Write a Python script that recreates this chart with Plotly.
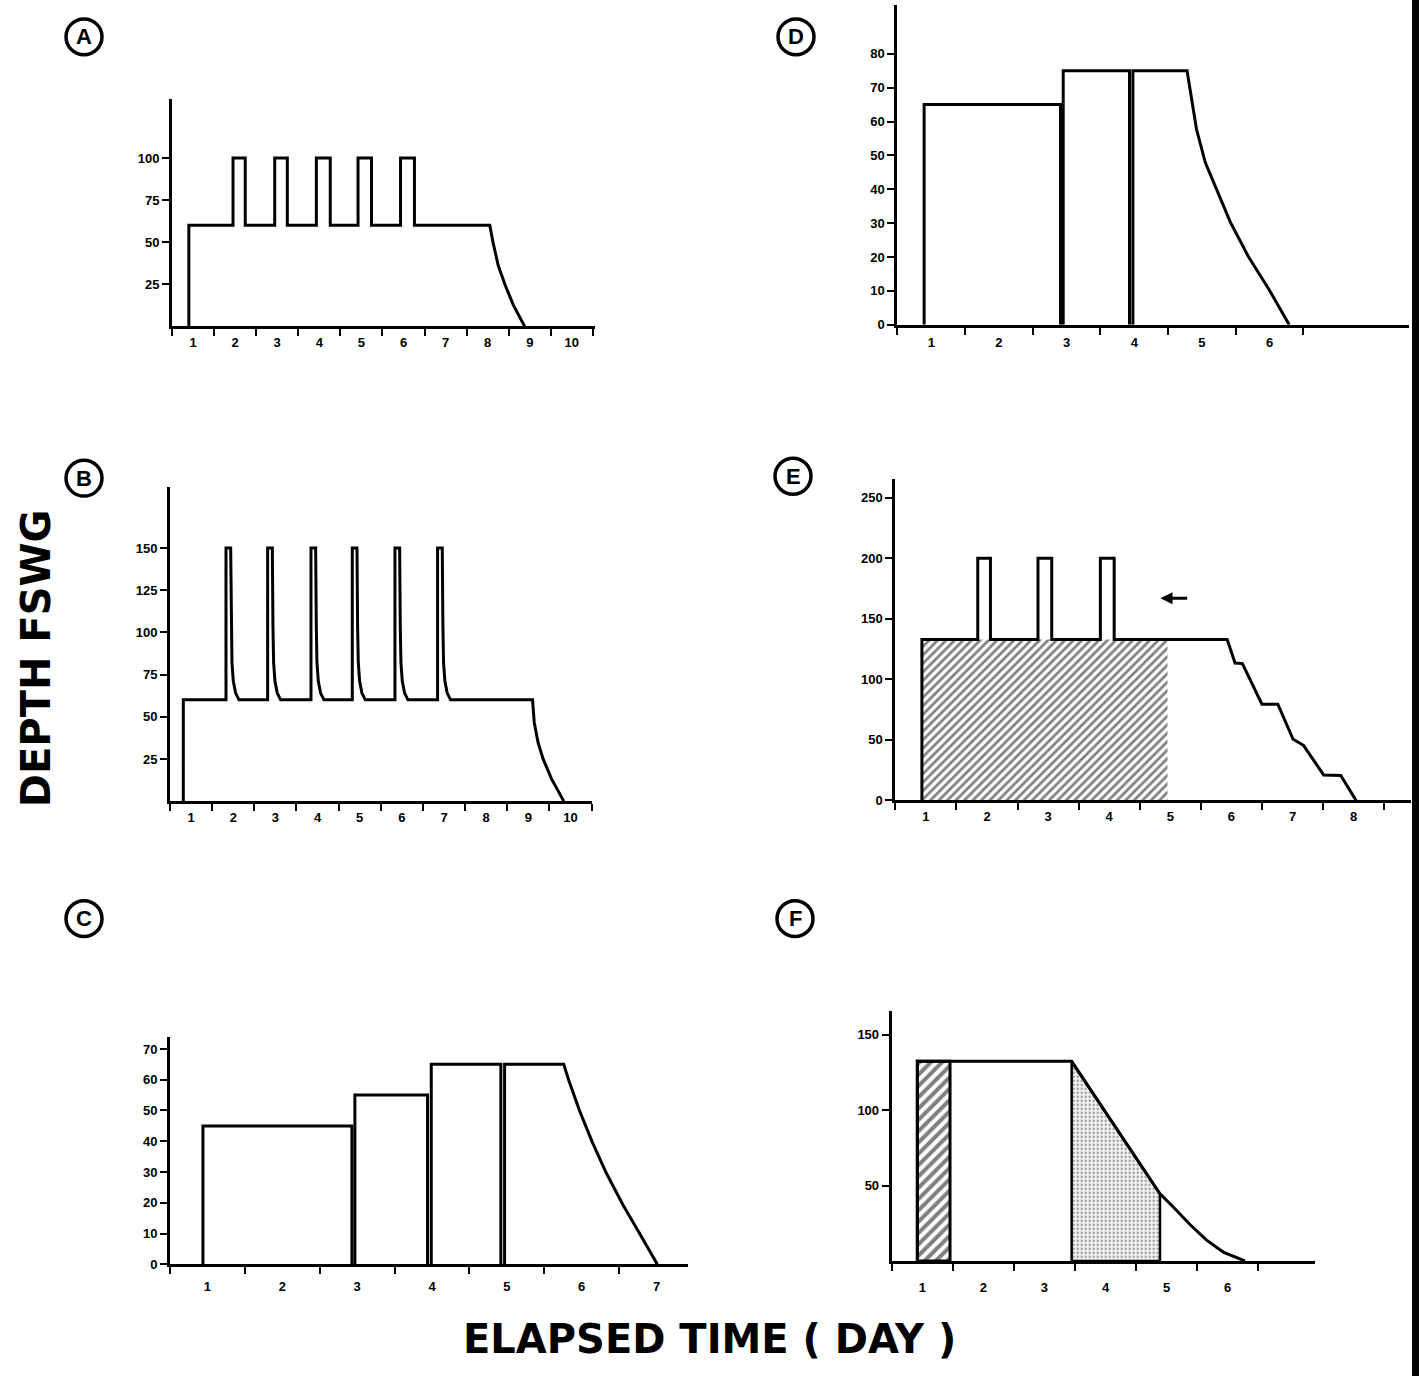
import plotly.graph_objects as go

W, H = 1419, 1384

# ---------------- data (x in elapsed days from axis origin, y in FSWG) ----------------
# Panel A
A_x = [0.40, 0.40, 1.45, 1.45, 1.74, 1.74, 2.44, 2.44, 2.74, 2.74, 3.43, 3.43, 3.76, 3.76,
       4.42, 4.42, 4.74, 4.74, 5.43, 5.43, 5.76, 5.76, 7.55, 7.63, 7.75, 7.91, 8.11, 8.38]
A_y = [0, 60, 60, 100, 100, 60, 60, 100, 100, 60, 60, 100, 100, 60,
       60, 100, 100, 60, 60, 100, 100, 60, 60, 49.5, 36.3, 24.9, 12.6, 0]
A_yticks = [25, 50, 75, 100]
A_xlabels = ["1", "2", "3", "4", "5", "6", "7", "8", "9", "10"]

# Panel B
B_x = [0.316, 0.316,
       1.328, 1.328, 1.439, 1.454, 1.470, 1.502, 1.557, 1.636,
       2.316, 2.316, 2.427, 2.442, 2.458, 2.490, 2.545, 2.624,
       3.344, 3.344, 3.455, 3.470, 3.486, 3.518, 3.573, 3.652,
       4.324, 4.324, 4.435, 4.450, 4.466, 4.498, 4.553, 4.632,
       5.336, 5.336, 5.447, 5.462, 5.478, 5.510, 5.565, 5.644,
       6.347, 6.347, 6.458, 6.473, 6.489, 6.521, 6.576, 6.655,
       8.60, 8.64, 8.73, 8.85, 9.05, 9.34]
B_y = [0, 60,
       60, 150, 150, 104, 82, 71, 64, 60,
       60, 150, 150, 104, 82, 71, 64, 60,
       60, 150, 150, 104, 82, 71, 64, 60,
       60, 150, 150, 104, 82, 71, 64, 60,
       60, 150, 150, 104, 82, 71, 64, 60,
       60, 150, 150, 104, 82, 71, 64, 60,
       60, 46.6, 34.8, 25, 13.2, 0]
B_yticks = [25, 50, 75, 100, 125, 150]
B_xlabels = ["1", "2", "3", "4", "5", "6", "7", "8", "9", "10"]

# Panel C (stepwise blocks + decompression tail)
C_starts = [0.44, 2.47, 3.49, 4.47]
C_ends = [2.43, 3.44, 4.42]
C_depths = [45, 55, 65, 65]
C_tail_x = [5.26, 5.32, 5.47, 5.64, 5.83, 6.05, 6.27, 6.51]
C_tail_y = [65, 60.3, 50, 39.8, 29.6, 19.4, 10.2, 0]
C_yticks = [0, 10, 20, 30, 40, 50, 60, 70]
C_xlabels = ["1", "2", "3", "4", "5", "6", "7"]

# Panel D
D_starts = [0.395, 2.45, 3.48]
D_ends = [2.41, 3.43]
D_depths = [65, 75, 75]
D_tail_x = [4.28, 4.34, 4.42, 4.55, 4.71, 4.92, 5.19, 5.48, 5.79]
D_tail_y = [75, 67.4, 57.7, 47.9, 40.1, 30.3, 20, 10.8, 0]
D_yticks = [0, 10, 20, 30, 40, 50, 60, 70, 80]
D_xlabels = ["1", "2", "3", "4", "5", "6"]

# Panel E
E_x = [0.434, 0.434, 1.348, 1.348, 1.556, 1.556, 2.334, 2.334, 2.559, 2.559, 3.355, 3.355,
       3.581, 3.581, 5.43, 5.56, 5.68, 6.00, 6.26, 6.51, 6.68, 7.01, 7.29, 7.54]
E_y = [0, 133, 133, 200, 200, 133, 133, 200, 200, 133, 133, 200,
       200, 133, 133, 113.5, 113, 79.5, 79.5, 50.5, 45.5, 21, 20.5, 0]
E_hatch_x = [0.434, 4.454]
E_hatch_depth = 133
E_arrow_x = [4.34, 4.80]
E_arrow_y = 167
E_yticks = [0, 50, 100, 150, 200, 250]
E_xlabels = ["1", "2", "3", "4", "5", "6", "7", "8"]

# Panel F
F_x = [0.42, 0.42, 2.946, 4.392, 4.610, 4.883, 5.155, 5.428, 5.783]
F_y = [0, 132.5, 132.5, 44.6, 35.8, 24.2, 13.8, 5.9, 0]
F_hatch_x = [0.42, 0.955]
F_hatch_depth = 132.5
F_stipple_x = [2.946, 4.392]
F_stipple_top = [132.5, 44.6]
F_yticks = [50, 100, 150]
F_xlabels = ["1", "2", "3", "4", "5", "6"]

# ---------------- figure ----------------
fig = go.Figure()
LINE = dict(color="black", width=3)


def add(xs, ys, sfx, line=LINE, **kw):
    fig.add_trace(go.Scatter(x=xs, y=ys, mode="lines", line=line,
                             xaxis="x" + sfx, yaxis="y" + sfx,
                             hoverinfo="skip", showlegend=False, **kw))


# A, B : single profiles
add(A_x, A_y, "")
add(B_x, B_y, "2")

# C : blocks
for i, (s, d) in enumerate(zip(C_starts, C_depths)):
    if i < len(C_ends):
        add([s, s, C_ends[i], C_ends[i]], [0, d, d, 0], "3")
    else:
        add([s, s] + C_tail_x, [0, d] + C_tail_y, "3")

# D : blocks
for i, (s, d) in enumerate(zip(D_starts, D_depths)):
    if i < len(D_ends):
        add([s, s, D_ends[i], D_ends[i]], [0, d, d, 0], "4")
    else:
        add([s, s] + D_tail_x, [0, d] + D_tail_y, "4")

# E : hatched saturation region + profile
add([E_hatch_x[0], E_hatch_x[0], E_hatch_x[1], E_hatch_x[1], E_hatch_x[0]],
    [0, E_hatch_depth, E_hatch_depth, 0, 0], "5",
    line=dict(color="black", width=0), fill="toself", fillcolor="white",
    fillpattern=dict(shape="/", size=6, solidity=0.45, fgcolor="black", bgcolor="white"))
add(E_x, E_y, "5")

# F : hatched block, stippled region, profile
add([F_hatch_x[0], F_hatch_x[0], F_hatch_x[1], F_hatch_x[1], F_hatch_x[0]],
    [0, F_hatch_depth, F_hatch_depth, 0, 0], "6",
    line=dict(color="black", width=3), fill="toself", fillcolor="white",
    fillpattern=dict(shape="/", size=8, solidity=0.5, fgcolor="black", bgcolor="white"))
add([F_stipple_x[0], F_stipple_x[0], F_stipple_x[1], F_stipple_x[1], F_stipple_x[0]],
    [0, F_stipple_top[0], F_stipple_top[1], 0, 0], "6",
    line=dict(color="black", width=2.5), fill="toself", fillcolor="white",
    fillpattern=dict(shape=".", size=4, solidity=0.4, fgcolor="#444444", bgcolor="white"))
add(F_x, F_y, "6")

# ---------------- axes ----------------
# pixel boxes: (left, right, top, zero-line)
panels = [
    ("", (172, 595, 100, 328.3), [0, 10.05], [0, 134.8], A_xlabels, A_yticks, 10, 2),
    ("2", (170, 592, 490, 805.8), [0, 10.01], [0, 186], B_xlabels, B_yticks, 10, 2),
    ("3", (170, 688, 1043.3, 1271.7), [0, 6.92], [0, 73.8], C_xlabels, C_yticks, 6, 8),
    ("4", (897.4, 1409, 5, 326.7), [0, 7.56], [0, 94.4], D_xlabels, D_yticks, 6, 4),
    ("5", (895.4, 1411, 481.7, 805), [0, 8.44], [0, 265.6], E_xlabels, E_yticks, 8, 2),
    ("6", (891.7, 1315, 1016.7, 1268.3), [0, 6.93], [0, 166], F_xlabels, F_yticks, 6, 12),
]

TF = dict(family="Liberation Sans", size=13, color="black", weight="bold")
layout = {}
for sfx, (l, r, t, b), xr, yr, xl, yt, nt, so in panels:
    layout["xaxis" + sfx] = dict(
        domain=[l / W, r / W], anchor="y" + sfx, range=xr,
        showline=True, linewidth=3, linecolor="black", mirror=False,
        showgrid=False, zeroline=False, fixedrange=True,
        tickmode="array", tickvals=[i + 0.5 for i in range(len(xl))], ticktext=xl,
        ticks="", tickfont=TF, ticklabelstandoff=so,
        minor=dict(tickmode="array", tickvals=list(range(0, nt + 1)), ticks="outside",
                   ticklen=7, tickwidth=2, tickcolor="black", showgrid=False),
    )
    layout["yaxis" + sfx] = dict(
        domain=[1 - b / H, 1 - t / H], anchor="x" + sfx, range=yr,
        showline=True, linewidth=3, linecolor="black",
        showgrid=False, zeroline=False, fixedrange=True,
        tickmode="array", tickvals=yt, ticks="outside", ticklen=7, tickwidth=2,
        tickcolor="black", tickfont=TF,
    )

# ---------------- decorations ----------------
shapes = []
annotations = []
labels = [("A", 84, 37), ("B", 84, 481), ("C", 84, 924), ("D", 796, 37), ("E", 793, 479), ("F", 795, 924)]
R = 18
for letter, cx, cy in labels:
    shapes.append(dict(type="circle", xref="paper", yref="paper",
                       x0=(cx - R) / W, x1=(cx + R) / W, y0=1 - (cy + R) / H, y1=1 - (cy - R) / H,
                       line=dict(color="black", width=3.5)))
    annotations.append(dict(text=letter, x=cx / W, y=1 - cy / H, xref="paper", yref="paper",
                            showarrow=False, xanchor="center", yanchor="middle",
                            font=dict(family="Liberation Sans", size=22, color="black", weight="bold")))

# right scan border
shapes.append(dict(type="rect", xref="paper", yref="paper", x0=1412 / W, x1=1, y0=0, y1=1,
                   fillcolor="black", line=dict(width=0)))

# arrow in E
annotations.append(dict(x=E_arrow_x[0], y=E_arrow_y, ax=E_arrow_x[1], ay=E_arrow_y,
                        xref="x5", yref="y5", axref="x5", ayref="y5", text="",
                        showarrow=True, arrowhead=2, arrowsize=0.8, arrowwidth=3, arrowcolor="black"))

TITLE_FONT = dict(family="DejaVu Sans", size=40, color="black", weight="bold")
annotations.append(dict(text="DEPTH FSWG", x=36 / W, y=1 - 662 / H, xref="paper", yref="paper",
                        showarrow=False, textangle=-90, xanchor="center", yanchor="middle",
                        font=TITLE_FONT))
annotations.append(dict(text="ELAPSED TIME ( DAY )", x=709 / W, y=1 - 1347 / H, xref="paper", yref="paper",
                        showarrow=False, xanchor="center", yanchor="middle",
                        font=TITLE_FONT))

fig.update_layout(
    width=W, height=H, margin=dict(l=0, r=0, t=0, b=0),
    paper_bgcolor="white", plot_bgcolor="white", showlegend=False,
    shapes=shapes, annotations=annotations, **layout,
)

fig.write_html("out.html")
